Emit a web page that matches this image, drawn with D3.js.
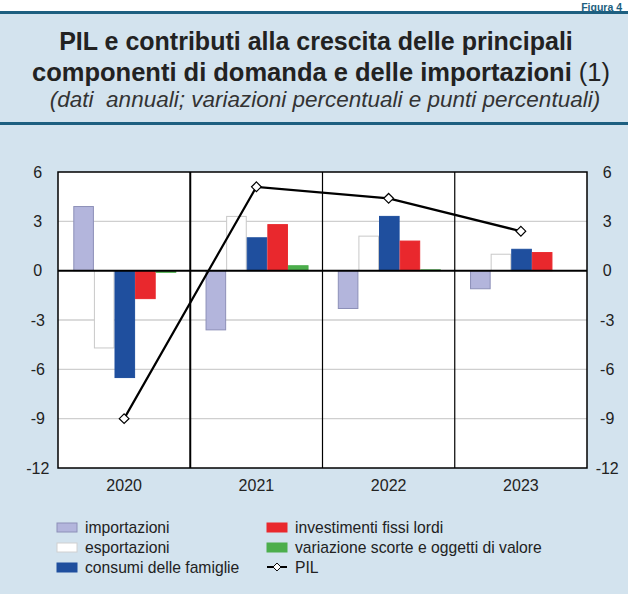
<!DOCTYPE html>
<html>
<head>
<meta charset="utf-8">
<script src="https://cdn.jsdelivr.net/npm/d3@7"></script>
<style>
  body { margin: 0; background: #fff; }
  svg { display: block; font-family: "Liberation Sans", Arial, sans-serif; }
</style>
</head>
<body>
<svg id="chart" width="628" height="594"></svg>
<script>
var years = ["2020", "2021", "2022", "2023"];
var seriesNames = ["importazioni", "esportazioni", "consumi delle famiglie", "investimenti fissi lordi", "variazione scorte e oggetti di valore"];
var importazioni = [3.9, -3.6, -2.3, -1.1];
var esportazioni = [-4.7, 3.3, 2.1, 1.0];
var consumi = [-6.5, 2.0, 3.3, 1.3];
var investimenti = [-1.7, 2.8, 1.8, 1.1];
var scorte = [-0.1, 0.3, 0.05, 0.0];
var pil = [-9.0, 5.1, 4.4, 2.4];
var yTicks = [6, 3, 0, -3, -6, -9, -12];

var colors = ["#b3b5dc", "#ffffff", "#1f4f9e", "#e9282d", "#4cae4c"];
var strokes = ["#8d90b8", "#c8c8c8", "#1f4f9e", "#e9282d", "#4cae4c"];
var series = [importazioni, esportazioni, consumi, investimenti, scorte];

var svg = d3.select("#chart"),
    margin = {top: 172, right: 41, bottom: 126, left: 58},
    width = svg.attr("width") - margin.left - margin.right,
    height = svg.attr("height") - margin.top - margin.bottom;

// background panel
svg.append("rect").attr("x", 0).attr("y", 0).attr("width", 628).attr("height", 594).attr("fill", "#d3e3ee");
svg.append("rect").attr("x", 0).attr("y", 0).attr("width", 628).attr("height", 11).attr("fill", "#fff");
svg.append("text").attr("x", 622).attr("y", 10.5).attr("text-anchor", "end")
  .attr("font-size", 10.5).attr("font-weight", "bold").attr("fill", "#1d5f80").text("Figura 4");
svg.append("rect").attr("x", 0).attr("y", 11).attr("width", 628).attr("height", 3).attr("fill", "#1d5f80");
svg.append("rect").attr("x", 0).attr("y", 122).attr("width", 628).attr("height", 3).attr("fill", "#1d5f80");

var title = svg.append("g").attr("fill", "#222");
title.append("text").attr("x", 316).attr("y", 50).attr("text-anchor", "middle")
  .attr("font-size", 25).attr("font-weight", "bold").text("PIL e contributi alla crescita delle principali");
var t2 = title.append("text").attr("x", 321).attr("y", 81).attr("text-anchor", "middle").attr("font-size", 25.5);
t2.append("tspan").attr("font-weight", "bold").text("componenti di domanda e delle importazioni ");
t2.append("tspan").text("(1)");
title.append("text").attr("x", 325).attr("y", 107).attr("text-anchor", "middle")
  .attr("font-size", 22.5).attr("font-style", "italic").attr("fill", "#333")
  .attr("xml:space", "preserve").text("(dati  annuali; variazioni percentuali e punti percentuali)");

var x = d3.scaleBand().domain(years).range([0, width]);
var xs = d3.scaleBand().domain(d3.range(5)).range([15.3, 15.3 + 103]);
var y = d3.scaleLinear().domain([-12, 6]).range([height, 0]);

var g = svg.append("g").attr("transform", "translate(" + margin.left + "," + margin.top + ")");

g.append("rect").attr("width", width).attr("height", height).attr("fill", "#fff");

// grid
g.selectAll(".grid").data(yTicks.filter(function(d) { return d !== 0 && d !== 6 && d !== -12; }))
  .enter().append("line")
    .attr("x1", 0).attr("x2", width)
    .attr("y1", function(d) { return y(d); }).attr("y2", function(d) { return y(d); })
    .attr("stroke", "#cfcfcf").attr("stroke-width", 1.3);

// bars
years.forEach(function(yr, i) {
  series.forEach(function(s, j) {
    var v = s[i];
    g.append("rect")
      .attr("x", x(yr) + xs(j) + 0.5)
      .attr("width", xs.bandwidth() - 1)
      .attr("y", Math.min(y(v), y(0)))
      .attr("height", Math.abs(y(v) - y(0)))
      .attr("fill", colors[j])
      .attr("stroke", strokes[j]).attr("stroke-width", 1);
  });
});

// category dividers
years.slice(1).forEach(function(yr, i) {
  g.append("line").attr("x1", x(yr)).attr("x2", x(yr)).attr("y1", 0).attr("y2", height)
    .attr("stroke", "#000").attr("stroke-width", i === 0 ? 2 : 1.2);
});

// zero line
g.append("line").attr("x1", 0).attr("x2", width).attr("y1", y(0)).attr("y2", y(0))
  .attr("stroke", "#000").attr("stroke-width", 2);

// frame
g.append("rect").attr("width", width).attr("height", height).attr("fill", "none")
  .attr("stroke", "#000").attr("stroke-width", 1.5);

// PIL line
var line = d3.line()
  .x(function(d, i) { return x(years[i]) + x.bandwidth() / 2; })
  .y(function(d) { return y(d); });
g.append("path").datum(pil).attr("d", line).attr("fill", "none").attr("stroke", "#000").attr("stroke-width", 2.2);
var diamond = d3.symbol().type(d3.symbolDiamond2).size(60);
g.selectAll(".pt").data(pil).enter().append("path")
  .attr("d", diamond)
  .attr("transform", function(d, i) { return "translate(" + (x(years[i]) + x.bandwidth() / 2) + "," + y(d) + ")"; })
  .attr("fill", "#fff").attr("stroke", "#000").attr("stroke-width", 1.2);

// axes
var fmt = function(d) { return String(d); };
var axisL = d3.axisLeft(y).tickValues(yTicks).tickFormat(fmt).tickSize(0).tickPadding(17);
var axisR = d3.axisRight(y).tickValues(yTicks).tickFormat(fmt).tickSize(0).tickPadding(13);
var aL = g.append("g").call(axisL);
var aR = g.append("g").attr("transform", "translate(" + width + ",0)").call(axisR);
[aL, aR].forEach(function(a) {
  a.select(".domain").remove();
  a.selectAll("text").attr("font-size", 16).attr("fill", "#222").attr("font-family", "Liberation Sans, Arial, sans-serif");
});
aL.selectAll("text").attr("text-anchor", "middle").attr("dx", "-0.2em");
aR.selectAll("text").attr("text-anchor", "middle").attr("dx", "0.45em");

var aB = g.append("g").attr("transform", "translate(0," + height + ")")
  .call(d3.axisBottom(x).tickSize(0).tickPadding(12));
aB.select(".domain").remove();
aB.selectAll("text").attr("font-size", 16).attr("fill", "#222").attr("font-family", "Liberation Sans, Arial, sans-serif");

// legend
var legendItems = [
  {label: seriesNames[0], col: 0, row: 0, k: 0},
  {label: seriesNames[1], col: 0, row: 1, k: 1},
  {label: seriesNames[2], col: 0, row: 2, k: 2},
  {label: seriesNames[3], col: 1, row: 0, k: 3},
  {label: seriesNames[4], col: 1, row: 1, k: 4},
  {label: "PIL", col: 1, row: 2, k: -1}
];
var colX = [57, 267], rowY = [527, 547, 567];
var lg = svg.append("g");
legendItems.forEach(function(it) {
  var lx = colX[it.col], ly = rowY[it.row];
  if (it.k >= 0) {
    lg.append("rect").attr("x", lx).attr("y", ly - 4).attr("width", 20).attr("height", 9)
      .attr("fill", colors[it.k]).attr("stroke", it.k === 1 ? "#d0d0d0" : strokes[it.k]).attr("stroke-width", 1);
  } else {
    lg.append("line").attr("x1", lx).attr("x2", lx + 20).attr("y1", ly).attr("y2", ly)
      .attr("stroke", "#000").attr("stroke-width", 2);
    lg.append("path").attr("d", d3.symbol().type(d3.symbolDiamond2).size(40))
      .attr("transform", "translate(" + (lx + 10) + "," + ly + ")")
      .attr("fill", "#fff").attr("stroke", "#000").attr("stroke-width", 1);
  }
  lg.append("text").attr("x", lx + 28).attr("y", ly + 5.5).attr("font-size", 15.7).attr("fill", "#222").text(it.label);
});
</script>
</body>
</html>
